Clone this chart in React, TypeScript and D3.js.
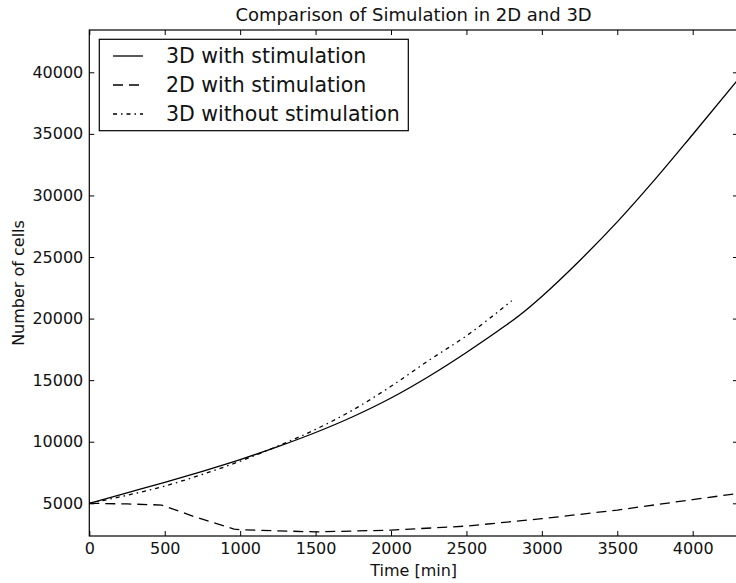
import { useEffect, useRef } from 'react';
import * as d3 from 'd3';

// Time in minutes and number of cells
const stim3dTime = [0, 250, 500, 750, 1000, 1250, 1500, 1750, 2000, 2250, 2500, 2750, 2850, 3000, 3250, 3500, 3750, 4000, 4300];
const stim3dCells = [5000, 5850, 6700, 7600, 8550, 9600, 10750, 12050, 13550, 15300, 17250, 19350, 20250, 21800, 24700, 27850, 31300, 34950, 39400];

const stim2dTime = [0, 250, 480, 700, 960, 1000, 1500, 2000, 2500, 3000, 3500, 4000, 4300];
const stim2dCells = [5000, 4950, 4860, 3900, 2900, 2850, 2680, 2820, 3150, 3750, 4450, 5300, 5800];

const noStim3dTime = [0, 250, 500, 750, 1000, 1250, 1500, 1750, 2000, 2250, 2500, 2800];
const noStim3dCells = [5000, 5650, 6400, 7350, 8420, 9650, 11000, 12600, 14500, 16600, 18600, 21450];

const xTicks = [0, 500, 1000, 1500, 2000, 2500, 3000, 3500, 4000];
const yTicks = [5000, 10000, 15000, 20000, 25000, 30000, 35000, 40000];

const legendLabels = ['3D with stimulation', '2D with stimulation', '3D without stimulation'];

const WIDTH = 736;
const HEIGHT = 583;
const FONT = '"DejaVu Sans", "Bitstream Vera Sans", sans-serif';

function SimulationChart() {
  const svgRef = useRef<SVGSVGElement>(null);

  useEffect(() => {
    const svg = d3.select(svgRef.current);
    svg.selectAll('*').remove();

    const left = 89.3;
    const top = 30;
    const bottom = 536;

    const x = d3.scaleLinear().domain([0, 4300]).range([left, left + 4300 * 0.15085]);
    const y = d3.scaleLinear().domain([2345, 43435]).range([bottom, top]);
    const right = x(4300);

    svg
      .append('defs')
      .append('clipPath')
      .attr('id', 'plot-clip')
      .append('rect')
      .attr('x', left)
      .attr('y', top)
      .attr('width', right - left)
      .attr('height', bottom - top);

    const series = [
      { t: stim3dTime, v: stim3dCells, dash: null, curve: d3.curveMonotoneX },
      { t: stim2dTime, v: stim2dCells, dash: '10,6', curve: d3.curveLinear },
      { t: noStim3dTime, v: noStim3dCells, dash: '4,4,1.5,4', curve: d3.curveMonotoneX },
    ];

    const plot = svg.append('g').attr('clip-path', 'url(#plot-clip)');
    series.forEach(s => {
      const line = d3
        .line<number>()
        .x((_, i) => x(s.t[i]))
        .y(d => y(d))
        .curve(s.curve);
      plot
        .append('path')
        .attr('d', line(s.v))
        .attr('fill', 'none')
        .attr('stroke', '#000')
        .attr('stroke-width', 1.3)
        .attr('stroke-dasharray', s.dash);
    });

    // axes with inward ticks
    const xAxis = svg
      .append('g')
      .attr('transform', `translate(0,${bottom})`)
      .call(
        d3
          .axisBottom(x)
          .tickValues(xTicks)
          .tickSizeInner(-5)
          .tickSizeOuter(0)
          .tickPadding(7)
          .tickFormat(d3.format('d')),
      );
    svg
      .append('g')
      .attr('transform', `translate(0,${top})`)
      .call(d3.axisTop(x).tickValues(xTicks).tickSizeInner(-5).tickSizeOuter(0).tickFormat(() => ''));

    const yAxis = svg
      .append('g')
      .attr('transform', `translate(${left},0)`)
      .call(
        d3
          .axisLeft(y)
          .tickValues(yTicks)
          .tickSizeInner(-5)
          .tickSizeOuter(0)
          .tickPadding(6)
          .tickFormat(d3.format('d')),
      );
    svg
      .append('g')
      .attr('transform', `translate(${right},0)`)
      .call(d3.axisRight(y).tickValues(yTicks).tickSizeInner(-5).tickSizeOuter(0).tickFormat(() => ''));

    svg.selectAll('.domain').remove();
    svg.selectAll('.tick line').attr('stroke', '#000').attr('stroke-width', 1);
    [xAxis, yAxis].forEach(a =>
      a.selectAll('text').style('font-family', FONT).style('font-size', '16px').attr('fill', '#111'),
    );

    svg
      .append('rect')
      .attr('x', left)
      .attr('y', top)
      .attr('width', right - left)
      .attr('height', bottom - top)
      .attr('fill', 'none')
      .attr('stroke', '#000')
      .attr('stroke-width', 1.2);

    svg
      .append('text')
      .attr('x', (left + right) / 2)
      .attr('y', 21)
      .attr('text-anchor', 'middle')
      .style('font-family', FONT)
      .style('font-size', '18px')
      .attr('fill', '#111')
      .text('Comparison of Simulation in 2D and 3D');

    svg
      .append('text')
      .attr('x', (left + right) / 2)
      .attr('y', 576)
      .attr('text-anchor', 'middle')
      .style('font-family', FONT)
      .style('font-size', '16px')
      .attr('fill', '#111')
      .text('Time [min]');

    svg
      .append('text')
      .attr('transform', `translate(23.5,${(top + bottom) / 2}) rotate(-90)`)
      .attr('text-anchor', 'middle')
      .style('font-family', FONT)
      .style('font-size', '16px')
      .attr('fill', '#111')
      .text('Number of cells');

    // legend
    const legend = svg.append('g');
    legend
      .append('rect')
      .attr('x', 99.3)
      .attr('y', 39.3)
      .attr('width', 309)
      .attr('height', 91.4)
      .attr('fill', '#fff')
      .attr('stroke', '#000')
      .attr('stroke-width', 1.2);

    const rows = legend
      .selectAll('g.row')
      .data(legendLabels)
      .enter()
      .append('g')
      .attr('class', 'row')
      .attr('transform', (_, i) => `translate(0,${56 + i * 29})`);

    rows
      .append('line')
      .attr('x1', 113)
      .attr('x2', 143)
      .attr('y1', 0)
      .attr('y2', 0)
      .attr('stroke', '#000')
      .attr('stroke-width', 1.3)
      .attr('stroke-dasharray', (_, i) => series[i].dash);

    rows
      .append('text')
      .attr('x', 166)
      .attr('y', 7)
      .style('font-family', FONT)
      .style('font-size', '20.5px')
      .attr('fill', '#111')
      .text(d => d);
  }, []);

  return (
    <svg
      ref={svgRef}
      width={WIDTH}
      height={HEIGHT}
      style={{ position: 'absolute', left: 0, top: 0, background: '#fff' }}
    />
  );
}

export default function App() {
  return <SimulationChart />;
}
